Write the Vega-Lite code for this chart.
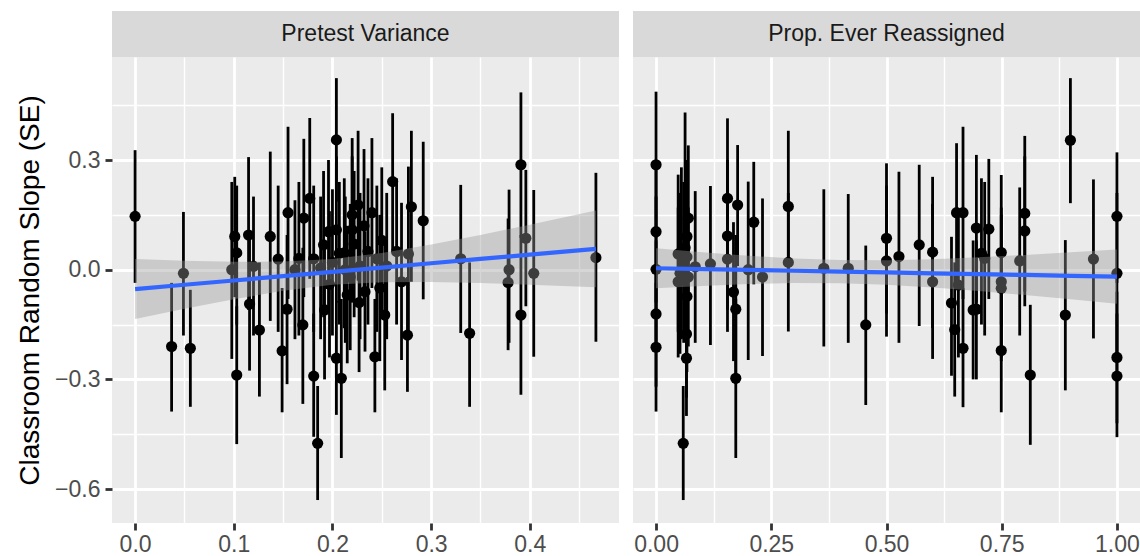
{
  "$schema": "https://vega.github.io/schema/vega-lite/v6.json",
  "background": "white",
  "padding": {"left": 16, "top": 11, "right": 0, "bottom": 0},
  "config": {
    "font": "Liberation Sans",
    "view": {"stroke": null},
    "axis": {
      "labelFont": "Liberation Sans",
      "labelFontSize": 23,
      "labelColor": "#4D4D4D",
      "labelOverlap": false,
      "labelFlush": false,
      "tickColor": "#333333",
      "tickWidth": 2.8,
      "tickSize": 7,
      "domain": false,
      "gridColor": "#FFFFFF",
      "titleFont": "Liberation Sans",
      "titleFontSize": 28,
      "titleFontWeight": "normal",
      "titleColor": "#000000"
    }
  },
  "datasets": {
    "pv": [
      {"x": 0.000, "y": 0.146, "lo": -0.036, "hi": 0.327},
      {"x": 0.037, "y": -0.210, "lo": -0.388, "hi": -0.036},
      {"x": 0.049, "y": -0.010, "lo": -0.180, "hi": 0.158},
      {"x": 0.056, "y": -0.215, "lo": -0.375, "hi": -0.055},
      {"x": 0.098, "y": 0.000, "lo": -0.244, "hi": 0.240},
      {"x": 0.101, "y": 0.091, "lo": -0.075, "hi": 0.254},
      {"x": 0.103, "y": -0.288, "lo": -0.477, "hi": -0.100},
      {"x": 0.103, "y": 0.046, "lo": -0.150, "hi": 0.230},
      {"x": 0.115, "y": 0.095, "lo": -0.110, "hi": 0.308},
      {"x": 0.116, "y": -0.094, "lo": -0.276, "hi": 0.090},
      {"x": 0.120, "y": 0.009, "lo": -0.180, "hi": 0.200},
      {"x": 0.126, "y": -0.165, "lo": -0.347, "hi": 0.020},
      {"x": 0.137, "y": 0.091, "lo": -0.140, "hi": 0.323},
      {"x": 0.145, "y": 0.029, "lo": -0.170, "hi": 0.230},
      {"x": 0.149, "y": -0.222, "lo": -0.390, "hi": -0.050},
      {"x": 0.155, "y": 0.156, "lo": -0.080, "hi": 0.391},
      {"x": 0.154, "y": -0.108, "lo": -0.313, "hi": 0.095},
      {"x": 0.166, "y": 0.031, "lo": -0.180, "hi": 0.240},
      {"x": 0.171, "y": 0.141, "lo": -0.075, "hi": 0.358},
      {"x": 0.170, "y": -0.151, "lo": -0.367, "hi": 0.060},
      {"x": 0.177, "y": 0.195, "lo": -0.025, "hi": 0.415},
      {"x": 0.181, "y": -0.291, "lo": -0.457, "hi": -0.120},
      {"x": 0.185, "y": -0.475, "lo": -0.630, "hi": -0.318},
      {"x": 0.191, "y": 0.068, "lo": -0.130, "hi": 0.270},
      {"x": 0.192, "y": -0.110, "lo": -0.300, "hi": 0.080},
      {"x": 0.204, "y": 0.355, "lo": 0.186, "hi": 0.524},
      {"x": 0.196, "y": 0.104, "lo": -0.100, "hi": 0.300},
      {"x": 0.204, "y": 0.109, "lo": -0.090, "hi": 0.310},
      {"x": 0.204, "y": -0.242, "lo": -0.397, "hi": -0.085},
      {"x": 0.209, "y": -0.297, "lo": -0.515, "hi": -0.080},
      {"x": 0.215, "y": -0.069, "lo": -0.256, "hi": 0.120},
      {"x": 0.226, "y": 0.177, "lo": -0.030, "hi": 0.380},
      {"x": 0.220, "y": 0.150, "lo": -0.060, "hi": 0.360},
      {"x": 0.220, "y": 0.109, "lo": -0.090, "hi": 0.310},
      {"x": 0.233, "y": -0.060, "lo": -0.224, "hi": 0.105},
      {"x": 0.243, "y": -0.238, "lo": -0.390, "hi": -0.080},
      {"x": 0.253, "y": -0.124, "lo": -0.330, "hi": 0.080},
      {"x": 0.270, "y": -0.033, "lo": -0.247, "hi": 0.183},
      {"x": 0.276, "y": -0.179, "lo": -0.334, "hi": -0.020},
      {"x": 0.261, "y": 0.241, "lo": 0.054, "hi": 0.428},
      {"x": 0.280, "y": 0.172, "lo": -0.033, "hi": 0.380},
      {"x": 0.292, "y": 0.134, "lo": -0.081, "hi": 0.350},
      {"x": 0.277, "y": 0.043, "lo": -0.190, "hi": 0.282},
      {"x": 0.330, "y": 0.030, "lo": -0.173, "hi": 0.232},
      {"x": 0.339, "y": -0.174, "lo": -0.375, "hi": 0.020},
      {"x": 0.378, "y": -0.035, "lo": -0.220, "hi": 0.140},
      {"x": 0.379, "y": 0.000, "lo": -0.200, "hi": 0.219},
      {"x": 0.391, "y": 0.287, "lo": 0.087, "hi": 0.485},
      {"x": 0.391, "y": -0.124, "lo": -0.342, "hi": 0.095},
      {"x": 0.396, "y": 0.086, "lo": -0.100, "hi": 0.273},
      {"x": 0.404, "y": -0.010, "lo": -0.238, "hi": 0.218},
      {"x": 0.467, "y": 0.033, "lo": -0.197, "hi": 0.265},
      {"x": 0.200, "y": 0.020, "lo": -0.180, "hi": 0.220},
      {"x": 0.207, "y": 0.045, "lo": -0.150, "hi": 0.240},
      {"x": 0.212, "y": 0.046, "lo": -0.160, "hi": 0.250},
      {"x": 0.218, "y": -0.020, "lo": -0.220, "hi": 0.180},
      {"x": 0.222, "y": 0.070, "lo": -0.130, "hi": 0.270},
      {"x": 0.228, "y": 0.010, "lo": -0.190, "hi": 0.210},
      {"x": 0.232, "y": 0.120, "lo": -0.090, "hi": 0.330},
      {"x": 0.236, "y": 0.050, "lo": -0.150, "hi": 0.250},
      {"x": 0.240, "y": 0.156, "lo": -0.050, "hi": 0.360},
      {"x": 0.245, "y": 0.030, "lo": -0.170, "hi": 0.230},
      {"x": 0.250, "y": 0.080, "lo": -0.120, "hi": 0.280},
      {"x": 0.255, "y": 0.010, "lo": -0.190, "hi": 0.210},
      {"x": 0.197, "y": -0.040, "lo": -0.240, "hi": 0.160},
      {"x": 0.188, "y": 0.005, "lo": -0.190, "hi": 0.200},
      {"x": 0.213, "y": 0.000, "lo": -0.200, "hi": 0.200},
      {"x": 0.162, "y": 0.000, "lo": -0.190, "hi": 0.190},
      {"x": 0.181, "y": 0.030, "lo": -0.170, "hi": 0.230},
      {"x": 0.227, "y": -0.090, "lo": -0.280, "hi": 0.100},
      {"x": 0.248, "y": -0.050, "lo": -0.250, "hi": 0.150},
      {"x": 0.265, "y": 0.050, "lo": -0.150, "hi": 0.250}
    ],
    "pr": [
      {"x": 0.000, "y": 0.287, "lo": 0.087, "hi": 0.487},
      {"x": 0.000, "y": 0.104, "lo": -0.090, "hi": 0.300},
      {"x": 0.000, "y": 0.001, "lo": -0.200, "hi": 0.200},
      {"x": 0.000, "y": -0.121, "lo": -0.320, "hi": 0.080},
      {"x": 0.000, "y": -0.212, "lo": -0.388, "hi": -0.036},
      {"x": 0.048, "y": 0.043, "lo": -0.170, "hi": 0.260},
      {"x": 0.048, "y": -0.033, "lo": -0.240, "hi": 0.170},
      {"x": 0.070, "y": 0.141, "lo": -0.060, "hi": 0.340},
      {"x": 0.067, "y": 0.091, "lo": -0.120, "hi": 0.300},
      {"x": 0.067, "y": 0.035, "lo": -0.160, "hi": 0.230},
      {"x": 0.067, "y": -0.073, "lo": -0.280, "hi": 0.130},
      {"x": 0.085, "y": 0.008, "lo": -0.200, "hi": 0.215},
      {"x": 0.059, "y": -0.475, "lo": -0.630, "hi": -0.318},
      {"x": 0.066, "y": -0.176, "lo": -0.350, "hi": 0.000},
      {"x": 0.066, "y": -0.242, "lo": -0.400, "hi": -0.085},
      {"x": 0.055, "y": 0.050, "lo": -0.190, "hi": 0.280},
      {"x": 0.060, "y": 0.020, "lo": -0.200, "hi": 0.240},
      {"x": 0.063, "y": 0.060, "lo": -0.150, "hi": 0.430},
      {"x": 0.052, "y": -0.010, "lo": -0.230, "hi": 0.210},
      {"x": 0.070, "y": -0.020, "lo": -0.210, "hi": 0.170},
      {"x": 0.118, "y": 0.016, "lo": -0.206, "hi": 0.229},
      {"x": 0.155, "y": 0.195, "lo": -0.025, "hi": 0.414},
      {"x": 0.155, "y": 0.092, "lo": -0.110, "hi": 0.300},
      {"x": 0.155, "y": 0.029, "lo": -0.170, "hi": 0.230},
      {"x": 0.177, "y": 0.177, "lo": 0.010, "hi": 0.341},
      {"x": 0.168, "y": -0.061, "lo": -0.250, "hi": 0.130},
      {"x": 0.173, "y": -0.108, "lo": -0.313, "hi": 0.095},
      {"x": 0.173, "y": -0.297, "lo": -0.515, "hi": -0.080},
      {"x": 0.200, "y": 0.000, "lo": -0.247, "hi": 0.241},
      {"x": 0.212, "y": 0.130, "lo": -0.040, "hi": 0.295},
      {"x": 0.231, "y": -0.020, "lo": -0.236, "hi": 0.195},
      {"x": 0.287, "y": 0.173, "lo": -0.030, "hi": 0.380},
      {"x": 0.287, "y": 0.020, "lo": -0.169, "hi": 0.210},
      {"x": 0.364, "y": 0.004, "lo": -0.210, "hi": 0.220},
      {"x": 0.417, "y": 0.004, "lo": -0.200, "hi": 0.207},
      {"x": 0.455, "y": -0.151, "lo": -0.370, "hi": 0.066},
      {"x": 0.500, "y": 0.086, "lo": -0.120, "hi": 0.291},
      {"x": 0.500, "y": 0.024, "lo": -0.183, "hi": 0.230},
      {"x": 0.527, "y": 0.036, "lo": -0.200, "hi": 0.268},
      {"x": 0.571, "y": 0.068, "lo": -0.154, "hi": 0.287},
      {"x": 0.600, "y": 0.048, "lo": -0.160, "hi": 0.254},
      {"x": 0.600, "y": -0.033, "lo": -0.244, "hi": 0.180},
      {"x": 0.641, "y": -0.091, "lo": -0.290, "hi": 0.090},
      {"x": 0.648, "y": -0.164, "lo": -0.347, "hi": 0.020},
      {"x": 0.652, "y": 0.156, "lo": -0.040, "hi": 0.346},
      {"x": 0.666, "y": 0.156, "lo": -0.080, "hi": 0.391},
      {"x": 0.656, "y": -0.042, "lo": -0.240, "hi": 0.160},
      {"x": 0.666, "y": -0.215, "lo": -0.376, "hi": -0.050},
      {"x": 0.695, "y": 0.114, "lo": -0.090, "hi": 0.314},
      {"x": 0.695, "y": -0.108, "lo": -0.300, "hi": 0.080},
      {"x": 0.706, "y": 0.045, "lo": -0.150, "hi": 0.250},
      {"x": 0.713, "y": 0.031, "lo": -0.180, "hi": 0.240},
      {"x": 0.722, "y": 0.111, "lo": -0.080, "hi": 0.303},
      {"x": 0.688, "y": -0.110, "lo": -0.300, "hi": 0.080},
      {"x": 0.749, "y": 0.047, "lo": -0.150, "hi": 0.259},
      {"x": 0.749, "y": -0.033, "lo": -0.240, "hi": 0.170},
      {"x": 0.749, "y": -0.051, "lo": -0.250, "hi": 0.150},
      {"x": 0.749, "y": -0.221, "lo": -0.390, "hi": -0.050},
      {"x": 0.789, "y": 0.024, "lo": -0.180, "hi": 0.225},
      {"x": 0.800, "y": 0.154, "lo": -0.060, "hi": 0.366},
      {"x": 0.800, "y": 0.106, "lo": -0.100, "hi": 0.310},
      {"x": 0.812, "y": -0.288, "lo": -0.479, "hi": -0.096},
      {"x": 0.899, "y": 0.354, "lo": 0.182, "hi": 0.524},
      {"x": 0.888, "y": -0.124, "lo": -0.330, "hi": 0.081},
      {"x": 0.949, "y": 0.029, "lo": -0.188, "hi": 0.247},
      {"x": 1.000, "y": 0.146, "lo": -0.036, "hi": 0.321},
      {"x": 1.000, "y": -0.010, "lo": -0.230, "hi": 0.210},
      {"x": 1.000, "y": -0.240, "lo": -0.420, "hi": -0.060},
      {"x": 1.000, "y": -0.291, "lo": -0.458, "hi": -0.120}
    ],
    "fv": [
      {"x": 0.000, "fit": -0.0530, "lo": -0.1350, "hi": 0.0290},
      {"x": 0.050, "fit": -0.0412, "lo": -0.1070, "hi": 0.0246},
      {"x": 0.100, "fit": -0.0295, "lo": -0.0807, "hi": 0.0217},
      {"x": 0.150, "fit": -0.0177, "lo": -0.0576, "hi": 0.0222},
      {"x": 0.200, "fit": -0.0059, "lo": -0.0413, "hi": 0.0295},
      {"x": 0.250, "fit": 0.0059, "lo": -0.0340, "hi": 0.0458},
      {"x": 0.300, "fit": 0.0177, "lo": -0.0335, "hi": 0.0689},
      {"x": 0.350, "fit": 0.0294, "lo": -0.0364, "hi": 0.0952},
      {"x": 0.400, "fit": 0.0412, "lo": -0.0408, "hi": 0.1232},
      {"x": 0.467, "fit": 0.0570, "lo": -0.0479, "hi": 0.1619}
    ],
    "fr": [
      {"x": 0.0, "fit": 0.0040, "lo": -0.0508, "hi": 0.0588},
      {"x": 0.1, "fit": 0.0017, "lo": -0.0444, "hi": 0.0478},
      {"x": 0.2, "fit": -0.0006, "lo": -0.0393, "hi": 0.0381},
      {"x": 0.3, "fit": -0.0029, "lo": -0.0364, "hi": 0.0306},
      {"x": 0.4, "fit": -0.0052, "lo": -0.0368, "hi": 0.0264},
      {"x": 0.5, "fit": -0.0075, "lo": -0.0410, "hi": 0.0260},
      {"x": 0.6, "fit": -0.0098, "lo": -0.0485, "hi": 0.0289},
      {"x": 0.7, "fit": -0.0121, "lo": -0.0582, "hi": 0.0340},
      {"x": 0.8, "fit": -0.0144, "lo": -0.0692, "hi": 0.0404},
      {"x": 0.9, "fit": -0.0167, "lo": -0.0809, "hi": 0.0475},
      {"x": 1.0, "fit": -0.0190, "lo": -0.0932, "hi": 0.0552}
    ]
  },
  "columns": 2,
  "spacing": {"row": 0, "column": 14},
  "concat": [
    {
      "width": 507,
      "height": 46,
      "view": {"fill": "#D9D9D9", "stroke": null},
      "data": {"values": [{"label": "Pretest Variance"}]},
      "mark": {"type": "text", "fontSize": 23, "color": "#1A1A1A", "font": "Liberation Sans"},
      "encoding": {"text": {"field": "label", "type": "nominal"}}
    },
    {
      "width": 507,
      "height": 46,
      "view": {"fill": "#D9D9D9", "stroke": null},
      "data": {"values": [{"label": "Prop. Ever Reassigned"}]},
      "mark": {"type": "text", "fontSize": 23, "color": "#1A1A1A", "font": "Liberation Sans"},
      "encoding": {"text": {"field": "label", "type": "nominal"}}
    },
    {
      "width": 507,
      "height": 466,
      "view": {"fill": "#EBEBEB", "stroke": null},
      "resolve": {"axis": {"x": "independent", "y": "independent"}},
      "layer": [
        {
          "data": {"name": "pv"},
          "mark": {"type": "rule", "color": "#000000", "strokeWidth": 2.8},
          "encoding": {
            "x": {"field": "x", "type": "quantitative", "scale": {"domain": [-0.0234, 0.4904], "nice": false, "zero": false},
                  "axis": {"orient": "top", "values": [0.05, 0.15, 0.25, 0.35, 0.45], "grid": true, "gridWidth": 1.4, "labels": false, "ticks": false, "domain": false, "title": null}},
            "y": {"field": "lo", "type": "quantitative", "scale": {"domain": [-0.6928, 0.5818], "nice": false, "zero": false},
                  "axis": {"orient": "right", "values": [-0.45, -0.15, 0.15, 0.45], "grid": true, "gridWidth": 1.4, "labels": false, "ticks": false, "domain": false, "title": null}},
            "y2": {"field": "hi"}
          }
        },
        {
          "data": {"name": "pv"},
          "mark": {"type": "circle", "color": "#000000", "opacity": 1, "size": 125},
          "encoding": {
            "x": {"field": "x", "type": "quantitative",
                  "axis": {"values": [0, 0.1, 0.2, 0.3, 0.4], "format": ".1f", "grid": true, "gridWidth": 2.8, "labelPadding": 3, "title": null}},
            "y": {"field": "y", "type": "quantitative",
                  "axis": {"values": [-0.6, -0.3, 0, 0.3], "format": ".1f", "grid": true, "gridWidth": 2.8, "labelPadding": 5, "title": "Classroom Random Slope (SE)", "titlePadding": 10}}
          }
        },
        {
          "data": {"name": "fv"},
          "mark": {"type": "area", "color": "#999999", "opacity": 0.4},
          "encoding": {
            "x": {"field": "x", "type": "quantitative", "axis": null},
            "y": {"field": "lo", "type": "quantitative", "axis": null},
            "y2": {"field": "hi"}
          }
        },
        {
          "data": {"name": "fv"},
          "mark": {"type": "line", "color": "#3366FF", "strokeWidth": 4.2},
          "encoding": {
            "x": {"field": "x", "type": "quantitative", "axis": null},
            "y": {"field": "fit", "type": "quantitative", "axis": null}
          }
        }
      ]
    },
    {
      "width": 507,
      "height": 466,
      "view": {"fill": "#EBEBEB", "stroke": null},
      "resolve": {"axis": {"x": "independent", "y": "independent"}},
      "layer": [
        {
          "data": {"name": "pr"},
          "mark": {"type": "rule", "color": "#000000", "strokeWidth": 2.8},
          "encoding": {
            "x": {"field": "x", "type": "quantitative", "scale": {"domain": [-0.05, 1.05], "nice": false, "zero": false},
                  "axis": {"orient": "top", "values": [0.125, 0.375, 0.625, 0.875], "grid": true, "gridWidth": 1.4, "labels": false, "ticks": false, "domain": false, "title": null}},
            "y": {"field": "lo", "type": "quantitative", "scale": {"domain": [-0.6928, 0.5818], "nice": false, "zero": false},
                  "axis": {"orient": "right", "values": [-0.45, -0.15, 0.15, 0.45], "grid": true, "gridWidth": 1.4, "labels": false, "ticks": false, "domain": false, "title": null}},
            "y2": {"field": "hi"}
          }
        },
        {
          "data": {"name": "pr"},
          "mark": {"type": "circle", "color": "#000000", "opacity": 1, "size": 125},
          "encoding": {
            "x": {"field": "x", "type": "quantitative",
                  "axis": {"values": [0, 0.25, 0.5, 0.75, 1], "format": ".2f", "grid": true, "gridWidth": 2.8, "labelPadding": 3, "title": null}},
            "y": {"field": "y", "type": "quantitative",
                  "axis": {"values": [-0.6, -0.3, 0, 0.3], "grid": true, "gridWidth": 2.8, "labels": false, "ticks": false, "title": null}}
          }
        },
        {
          "data": {"name": "fr"},
          "mark": {"type": "area", "color": "#999999", "opacity": 0.4},
          "encoding": {
            "x": {"field": "x", "type": "quantitative", "axis": null},
            "y": {"field": "lo", "type": "quantitative", "axis": null},
            "y2": {"field": "hi"}
          }
        },
        {
          "data": {"name": "fr"},
          "mark": {"type": "line", "color": "#3366FF", "strokeWidth": 4.2},
          "encoding": {
            "x": {"field": "x", "type": "quantitative", "axis": null},
            "y": {"field": "fit", "type": "quantitative", "axis": null}
          }
        }
      ]
    }
  ]
}
